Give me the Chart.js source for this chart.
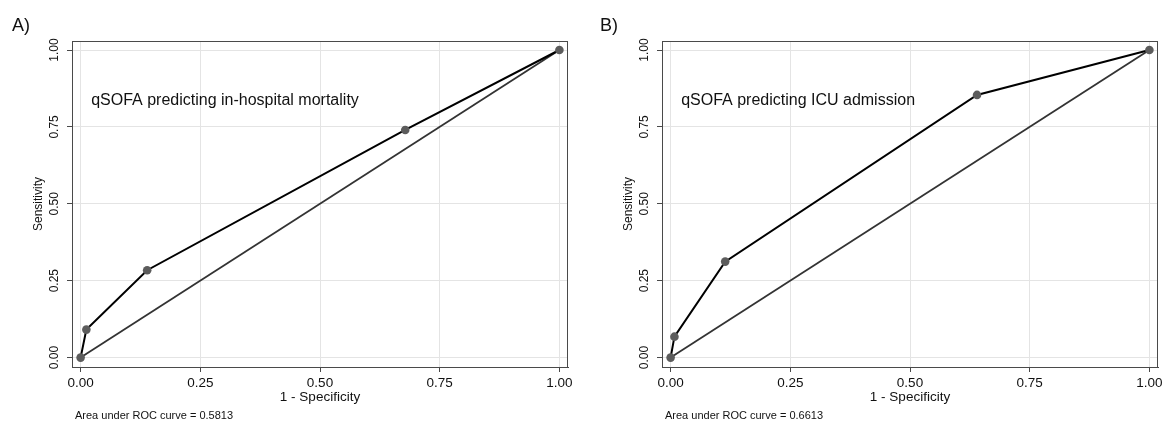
<!DOCTYPE html>
<html lang="en">
<head>
    <meta charset="UTF-8">
    <title>qSOFA ROC curves</title>
    <script src="https://cdn.jsdelivr.net/npm/chart.js"></script>
    <style>
        body {
            margin: 0;
            background: #fff;
            font-family: 'Liberation Sans', Arial, sans-serif;
            color: #111;
        }
        .wrap { position: relative; width: 1175px; height: 421px; }
        .panel { position: absolute; top: 0; height: 421px; }
        .tag { position: absolute; top: 16px; font-size: 18px; line-height: 18px; }
        .auc { position: absolute; top: 410px; font-size: 11px; line-height: 11px; }
    </style>
</head>
<body>
<div class="wrap">
    <div class="panel" style="left:0; width:587px;"><canvas id="chartA" width="587" height="421"></canvas></div>
    <div class="panel" style="left:590px; width:585px;"><canvas id="chartB" width="585" height="421"></canvas></div>
    <div class="tag" style="left:12px;">A)</div>
    <div class="tag" style="left:600px;">B)</div>
    <div class="auc" id="aucA" style="left:75px;"></div>
    <div class="auc" id="aucB" style="left:665px;"></div>
</div>

<script>
    // Data
    const tickValues = [0, 0.25, 0.5, 0.75, 1];
    const diagonal = [0, 1];

    const mortalityFpr = [0, 0.012, 0.139, 0.678, 1];
    const mortalitySens = [0, 0.091, 0.284, 0.740, 1];

    const icuFpr = [0, 0.008, 0.114, 0.640, 1];
    const icuSens = [0, 0.068, 0.312, 0.854, 1];

    const panelTitles = ['qSOFA predicting in-hospital mortality', 'qSOFA predicting ICU admission'];
    const aucValues = ['0.5813', '0.6613'];

    const FONT = "'Liberation Sans', Arial, sans-serif";

    // frame around the plot region + the text inside it
    const framePlugin = {
        id: 'frame',
        afterDraw(chart, args, opts) {
            const { ctx, chartArea: a, scales } = chart;
            ctx.save();
            ctx.strokeStyle = '#4a4a4a';
            ctx.lineWidth = 1;
            ctx.strokeRect(a.left + 0.5, a.top + 0.5, a.right - a.left - 1, a.bottom - a.top);
            ctx.fillStyle = '#111';
            ctx.font = '16px ' + FONT;
            ctx.textBaseline = 'middle';
            ctx.textAlign = 'left';
            ctx.fillText(opts.text, scales.x.getPixelForValue(opts.x), scales.y.getPixelForValue(opts.y));
            ctx.restore();
        }
    };

    function setTicks(scale) {
        scale.ticks = tickValues.map(v => ({ value: v }));
    }

    function makeChart(id, fpr, sens, title, rightPad) {
        const roc = fpr.map((x, i) => ({ x: x, y: sens[i] }));
        const ref = diagonal.map(v => ({ x: v, y: v }));

        return new Chart(document.getElementById(id), {
            type: 'line',
            data: {
                datasets: [{
                    data: roc,
                    borderColor: '#000',
                    borderWidth: 2,
                    pointRadius: 4.3,
                    pointBackgroundColor: '#5c5c5c',
                    pointBorderWidth: 0,
                    tension: 0
                }, {
                    data: ref,
                    borderColor: '#333',
                    borderWidth: 1.8,
                    pointRadius: 0,
                    tension: 0
                }]
            },
            options: {
                responsive: false,
                animation: false,
                layout: { padding: { left: 0, top: 41, right: rightPad, bottom: 0 } },
                plugins: {
                    legend: { display: false },
                    tooltip: { enabled: false },
                    frame: { text: title, x: 0.022, y: 0.837 }
                },
                scales: {
                    x: {
                        type: 'linear',
                        min: -0.018,
                        max: 1.018,
                        afterBuildTicks: setTicks,
                        afterFit: s => { s.height = 54; },
                        grid: { color: '#e4e4e4', tickColor: '#4a4a4a', tickLength: 5 },
                        border: { color: '#4a4a4a' },
                        ticks: {
                            color: '#111',
                            padding: 3,
                            maxRotation: 0,
                            font: { family: FONT, size: 13.5 },
                            callback: v => v.toFixed(2)
                        },
                        title: {
                            display: true,
                            text: '1 - Specificity',
                            color: '#111',
                            padding: { top: 0, bottom: 16 },
                            font: { family: FONT, size: 13.5 }
                        }
                    },
                    y: {
                        type: 'linear',
                        min: -0.0306,
                        max: 1.0293,
                        afterBuildTicks: setTicks,
                        afterFit: s => { s.width = 72; },
                        grid: { color: '#e4e4e4', tickColor: '#4a4a4a', tickLength: 5 },
                        border: { color: '#4a4a4a' },
                        ticks: {
                            color: '#111',
                            padding: 1,
                            minRotation: 90,
                            maxRotation: 90,
                            crossAlign: 'center',
                            font: { family: FONT, size: 12 },
                            callback: v => v.toFixed(2)
                        },
                        title: {
                            display: true,
                            text: 'Sensitivity',
                            color: '#111',
                            padding: { top: 31, bottom: 0 },
                            font: { family: FONT, size: 12 }
                        }
                    }
                }
            },
            plugins: [framePlugin]
        });
    }

    makeChart('chartA', mortalityFpr, mortalitySens, panelTitles[0], 19);
    makeChart('chartB', icuFpr, icuSens, panelTitles[1], 17);

    document.getElementById('aucA').textContent = 'Area under ROC curve = ' + aucValues[0];
    document.getElementById('aucB').textContent = 'Area under ROC curve = ' + aucValues[1];
</script>
</body>
</html>
